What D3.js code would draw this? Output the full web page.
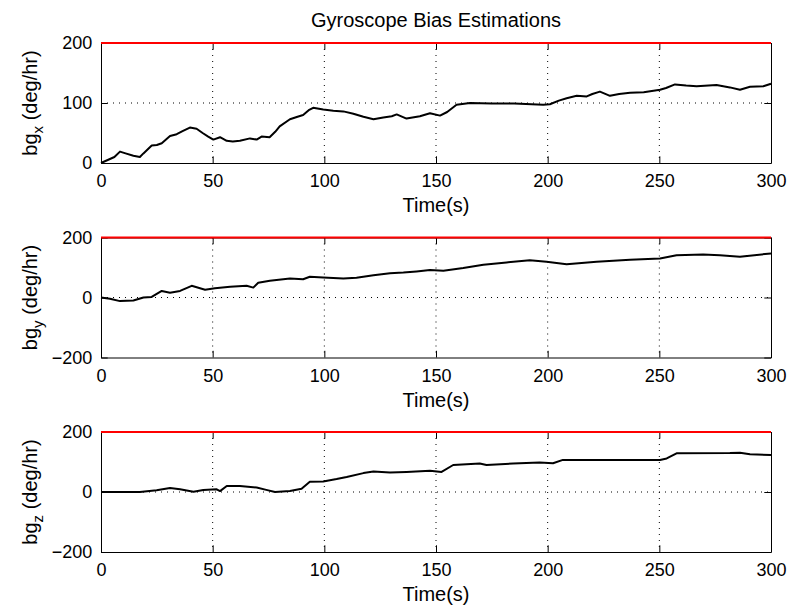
<!DOCTYPE html>
<html>
<head>
<meta charset="utf-8">
<script src="https://cdn.jsdelivr.net/npm/d3@7"></script>
<style>
  body { margin: 0; background: #fff; }
  svg { display: block; font-family: "Liberation Sans", Arial, Helvetica, sans-serif; }
</style>
</head>
<body>
<svg id="chart"></svg>
<script>
// estimated bias values, [time (s), deg/hr]
const bgx = [
  [0, 0], [3, 5], [6, 10], [8.5, 19], [11, 16], [14.5, 12], [17.4, 10], [19, 16],
  [22.7, 29], [25, 30], [27.2, 33], [30.9, 45], [33.9, 48], [36.5, 53], [39.8, 59],
  [42.8, 57], [45.5, 50], [48, 44], [50.3, 39], [53.3, 43], [56.3, 37], [59, 36],
  [62.2, 37], [66.7, 41], [69.7, 39], [71.9, 44], [75.5, 43], [78, 52], [80, 61],
  [84.6, 73], [88, 77], [90.5, 80], [93, 88], [95, 92], [99.5, 89], [104, 87],
  [108.5, 86], [113, 82], [117.5, 77], [122, 73], [126.4, 76], [130.2, 78],
  [132.4, 81], [136.8, 74], [142.8, 78], [147.3, 83], [151.8, 79], [155, 85],
  [159.2, 97], [165.2, 100], [175, 99], [185, 99], [198, 97], [201, 98], [205, 104],
  [208.5, 108], [213, 112], [217.5, 111], [220, 115], [223.4, 119], [227.9, 112],
  [232, 115], [236.9, 117], [243, 118], [250.3, 122], [253, 125], [257, 131],
  [262, 129], [266.7, 128], [275.6, 130], [281.6, 126], [286.1, 122], [290.6, 127],
  [296.6, 128], [300, 132]
];
const bgy = [
  [0, 0], [4, -4], [8.5, -12], [14.5, -10], [19, 0], [22.7, 2], [27.2, 22],
  [30.9, 16], [35.4, 22], [40.6, 39], [46.6, 26], [51, 31], [57.8, 36], [65.2, 39],
  [68.2, 33], [70.4, 49], [75.6, 56], [84.6, 63], [90.5, 61], [93.5, 69], [99.5, 67],
  [108.5, 63], [114.4, 66], [122, 74], [129.4, 81], [135.4, 83], [141.3, 87],
  [147.3, 92], [153.3, 89], [162.2, 98], [171.2, 109], [181.6, 117], [192, 124],
  [199.5, 119], [208.5, 111], [221.9, 119], [236.9, 126], [250.3, 130], [257.7, 141],
  [269.6, 143], [277.1, 141], [286.1, 136], [300, 147]
];
const bgz = [
  [0, 0], [17.4, 0], [24.9, 6], [30.9, 13], [35.4, 9], [41.4, 1], [45.8, 7],
  [51.8, 9], [53.3, 3], [56.3, 20], [62.2, 20], [69.7, 15], [74, 7], [77.9, 0],
  [84.6, 3], [89.8, 11], [93.5, 34], [99.5, 35], [105.5, 43], [110, 50], [117.5, 63],
  [122, 68], [129.4, 65], [136.8, 67], [147.3, 71], [152.5, 67], [157.7, 90],
  [169.6, 95], [172.6, 90], [184.5, 95], [196.4, 98], [202.4, 96], [206.8, 107],
  [250.3, 107], [253.3, 112], [257.7, 129], [281.6, 130], [286.1, 131], [290.6, 126],
  [300, 123]
];
// true bias (red reference line)
const trueBias = [[0, 200], [300, 200]];

const xTicks = [0, 50, 100, 150, 200, 250, 300];
const yTicksX = [0, 100, 200];
const yTicksYZ = [-200, 0, 200];
const axisNames = ["x", "y", "z"];

const width = 790;
const height = 610;
const left = 101;
const right = 771;
const plotH = 120;
const tops = [43, 237.5, 432];
const tickLen = 6.7;

const svg = d3.select("#chart").attr("width", width).attr("height", height);
svg.append("rect").attr("width", width).attr("height", height).attr("fill", "#fff");

const xScale = d3.scaleLinear().domain([0, 300]).range([left, right]);
const fmt = (d) => (d < 0 ? "\u2212" + Math.abs(d) : "" + d);

const drawPanel = (i, series, yTicks) => {
  const top = tops[i];
  const yScale = d3.scaleLinear()
    .domain([yTicks[0], yTicks[yTicks.length - 1]])
    .range([top + plotH, top]);
  const g = svg.append("g");

  // grid
  g.append("g")
    .selectAll("line")
    .data(xTicks.slice(1, -1))
    .enter()
    .append("line")
    .attr("x1", (d) => xScale(d)).attr("x2", (d) => xScale(d))
    .attr("y1", top).attr("y2", top + plotH)
    .attr("stroke", "#000").attr("stroke-width", 1).attr("stroke-dasharray", "1,5");
  g.append("g")
    .selectAll("line")
    .data(yTicks.slice(1, -1))
    .enter()
    .append("line")
    .attr("x1", left).attr("x2", right)
    .attr("y1", (d) => yScale(d)).attr("y2", (d) => yScale(d))
    .attr("stroke", "#000").attr("stroke-width", 1).attr("stroke-dasharray", "1,5");

  // axes, ticks pointing inward like matlab
  const xAxis = d3.axisBottom(xScale).tickValues(xTicks).tickSizeInner(-tickLen)
    .tickSizeOuter(0).tickPadding(tickLen + 5).tickFormat(fmt);
  g.append("g")
    .attr("transform", "translate(0," + (top + plotH) + ")")
    .call(xAxis);
  g.append("g")
    .attr("transform", "translate(0," + top + ")")
    .call(d3.axisTop(xScale).tickValues(xTicks).tickSizeInner(-tickLen).tickSizeOuter(0).tickFormat(""));

  const yAxis = d3.axisLeft(yScale).tickValues(yTicks).tickSizeInner(-tickLen)
    .tickSizeOuter(0).tickPadding(tickLen + 2).tickFormat(fmt);
  g.append("g")
    .attr("transform", "translate(" + left + ",0)")
    .call(yAxis);
  g.append("g")
    .attr("transform", "translate(" + right + ",0)")
    .call(d3.axisRight(yScale).tickValues(yTicks).tickSizeInner(-tickLen).tickSizeOuter(0).tickFormat(""));

  g.selectAll(".tick text")
    .attr("font-size", 18)
    .attr("font-family", "'Liberation Sans', Arial, sans-serif")
    .attr("fill", "#000");
  g.selectAll(".tick line").attr("stroke", "#000");
  g.selectAll(".domain").attr("stroke", "#000");

  const line = d3.line().x((d) => xScale(d[0])).y((d) => yScale(d[1]));

  g.append("path")
    .datum(series)
    .attr("d", line)
    .attr("fill", "none")
    .attr("stroke", "#000")
    .attr("stroke-width", 2)
    .attr("stroke-linejoin", "round");

  g.append("path")
    .datum(trueBias)
    .attr("d", line)
    .attr("fill", "none")
    .attr("stroke", "#ff0000")
    .attr("stroke-width", 2);

  // labels
  g.append("text")
    .attr("x", (left + right) / 2)
    .attr("y", top + plotH + 49)
    .attr("text-anchor", "middle")
    .attr("font-size", 20)
    .text("Time(s)");

  const yl = g.append("text")
    .attr("transform", "translate(37," + (top + plotH / 2) + ") rotate(-90)")
    .attr("text-anchor", "middle")
    .attr("font-size", 20);
  yl.append("tspan").text("bg");
  yl.append("tspan").attr("dy", 6).attr("font-size", 15).text(axisNames[i]);
  yl.append("tspan").attr("dy", -6).text(" (deg/hr)");
};

drawPanel(0, bgx, yTicksX);
drawPanel(1, bgy, yTicksYZ);
drawPanel(2, bgz, yTicksYZ);

svg.append("text")
  .attr("x", (left + right) / 2)
  .attr("y", 27)
  .attr("text-anchor", "middle")
  .attr("font-size", 20)
  .text("Gyroscope Bias Estimations");
</script>
</body>
</html>
